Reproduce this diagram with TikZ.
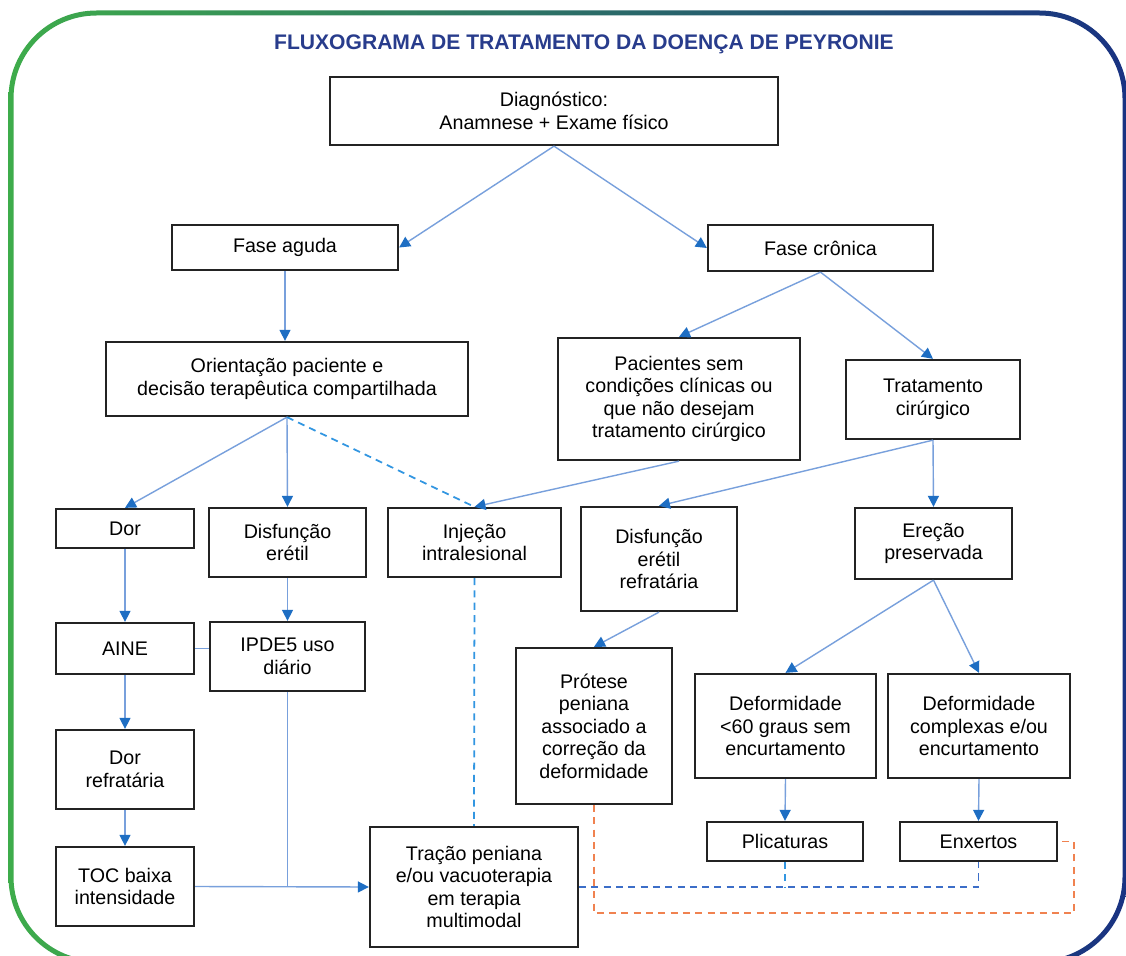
\documentclass[tikz,border=0pt]{standalone}
\usepackage{fontspec}
\setmainfont{Liberation Sans}
\usetikzlibrary{arrows.meta}
\usetikzlibrary{positioning}
\definecolor{linkblue}{RGB}{120,160,220}
\definecolor{tipblue}{RGB}{30,110,195}
\definecolor{dashcyan}{RGB}{50,150,225}
\definecolor{dashblue}{RGB}{60,110,200}
\definecolor{dashorange}{RGB}{240,130,80}
\definecolor{framegreen}{RGB}{62,172,75}
\definecolor{framenavy}{RGB}{25,50,130}
\definecolor{titlenavy}{RGB}{40,60,140}
\definecolor{boxline}{RGB}{35,35,35}
\tikzset{
	action/.style={rectangle, draw=boxline, line width=1.3pt, fill=white, align=center, font=\fontsize{11.2}{12.8}\selectfont},
	boxsize/.style 2 args={minimum width=#1*0.02cm, minimum height=#2*0.02cm},
	arrow/.style={draw=linkblue, line width=0.8pt, -{Triangle[length=2.2mm, width=2.2mm, color=tipblue]}},
	link/.style={draw=linkblue, line width=0.8pt},
	dashlink/.style={draw=#1, line width=1pt, dash pattern=on 4pt off 3pt}
}

\begin{document}
\begin{tikzpicture}[x=0.02cm, y=-0.02cm]
\useasboundingbox (0,0) rectangle (1126,956);
\fill[white] (0,0) rectangle (1126,956);
% moldura
\shade[left color=framegreen, right color=framenavy, even odd rule]
	(8.5,10.5) [rounded corners=1.76cm] rectangle (1127.5,965)
	(13.5,15.5) [rounded corners=1.66cm] rectangle (1122.5,960);

\node[font=\bfseries\fontsize{12}{14}\selectfont, text=titlenavy] (title) at (584,44) {FLUXOGRAMA DE TRATAMENTO DA DOENÇA DE PEYRONIE};

\node[action, boxsize={448}{68}] (diag) at (554,111) {Diagnóstico:\\Anamnese + Exame físico};

\node[action, boxsize={226}{45}] (aguda) at (285,247.5) {Fase aguda};
\node[action, boxsize={225}{46}] (cronica) at (820.5,248) {Fase crônica};

\node[action, boxsize={362}{74}] (orient) at (287,379) {Orientação paciente e\\decisão
	terapêutica compartilhada};
\node[action, boxsize={242}{122}] (semcirurgia) at (679,399) {Pacientes sem\\condições
	clínicas ou\\que não desejam\\tratamento cirúrgico};
\node[action, boxsize={174}{79}] (cirurgico) at (933,399.5) {Tratamento\\cirúrgico};

\node[action, boxsize={138}{39}] (dor) at (125,528.5) {Dor};
\node[action, boxsize={157}{69}] (disfuncao) at (287.5,542.5) {Disfunção\\erétil};
\node[action, boxsize={173}{69}] (injecao) at (474.5,542.5) {Injeção\\intralesional};
\node[action, boxsize={156}{104}] (disfref) at (659,559) {Disfunção\\erétil\\refratária};
\node[action, boxsize={157}{71}] (erecao) at (933.5,543.5) {Ereção\\preservada};

\node[action, boxsize={138}{51}] (aine) at (125,648.5) {AINE};
\node[action, boxsize={155}{69}] (ipde) at (287.5,656.5) {IPDE5 uso\\diário};
\node[action, boxsize={156}{156}] (protese) at (594,726) {Prótese\\peniana\\associado a\\correção
	da\\deformidade};
\node[action, boxsize={181}{104}] (def60) at (785.5,726) {Deformidade\\<60 graus
	sem\\encurtamento};
\node[action, boxsize={182}{104}] (defcomplexa) at (979,726) {Deformidade\\complexas
	e/ou\\encurtamento};

\node[action, boxsize={138}{79}] (dorref) at (125,769.5) {Dor\\refratária};
\node[action, boxsize={138}{79}] (toc) at (125,886.5) {TOC baixa\\intensidade};
\node[action, boxsize={208}{120}] (tracao) at (474,887) {Tração peniana\\e/ou
	vacuoterapia\\em terapia\\multimodal};
\node[action, boxsize={156}{39}] (plicaturas) at (785,841.5) {Plicaturas};
\node[action, boxsize={157}{39}] (enxertos) at (978.5,841.5) {Enxertos};

\coordinate (laranja) at (1074,913);

\draw [arrow] (diag.south) -- (aguda.east);
\draw [arrow] (diag.south) -- (cronica.west);
\draw [arrow] (aguda.south) -- (aguda.south |- orient.north);
\draw [arrow] (cronica.south) -- (semcirurgia.north);
\draw [arrow] (cronica.south) -- (cirurgico.north);
\draw [arrow] (orient.south) -- (dor.north);
\draw [arrow] (orient.south) -- (disfuncao.north);
\draw [dashlink=dashcyan] (orient.south) -- (injecao.north);
\draw [arrow] (semcirurgia.south) -- (injecao.north);
\draw [arrow] (cirurgico.south) -- (disfref.north);
\draw [arrow] (cirurgico.south) -- (erecao.north);
\draw [arrow] (dor.south) -- (aine.north);
\draw [arrow] (disfuncao.south) -- (ipde.north);
\draw [link] (aine.east) -- (aine.east -| ipde.west);
\draw [arrow] (aine.south) -- (dorref.north);
\draw [arrow] (dorref.south) -- (toc.north);
\draw [arrow] (toc.east) -- (tracao.west);
\draw [link] (ipde.south) -- (ipde.south |- tracao.west);
\draw [arrow] (disfref.south) -- (protese.north);
\draw [arrow] (erecao.south) -- (def60.north);
\draw [arrow] (erecao.south) -- (defcomplexa.north);
\draw [arrow] (def60.south) -- (plicaturas.north);
\draw [arrow] (defcomplexa.south) -- (enxertos.north);
\draw [dashlink=dashcyan] (injecao.south) -- (tracao.north);
\draw [dashlink=dashcyan] (plicaturas.south) -- (plicaturas.south |- tracao.east);
\draw [dashlink=dashblue] (tracao.east) -| (enxertos.south);
\draw [dashlink=dashorange] (protese.south) |- (laranja) |- (enxertos.east);

\end{tikzpicture}
\end{document}
